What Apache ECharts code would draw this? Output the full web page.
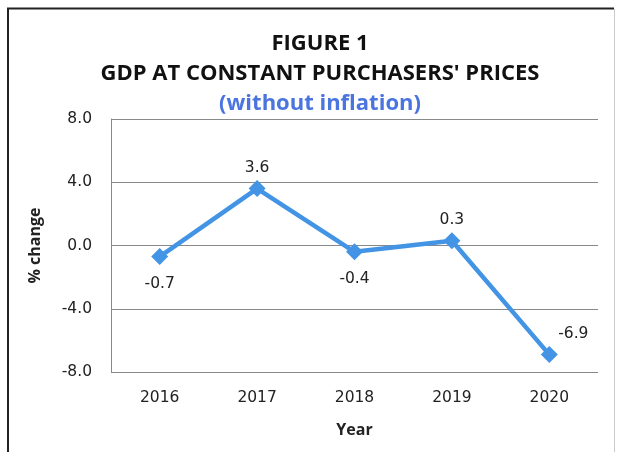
<!DOCTYPE html>
<html>
<head>
<meta charset="utf-8">
<script src="https://cdn.jsdelivr.net/npm/echarts@6/dist/echarts.min.js"></script>
<style>
  html, body { margin: 0; padding: 0; background: #fff; }
  #main { width: 618px; height: 452px; }
</style>
</head>
<body>
<div id="main"></div>
<script>
  // 数据
  const years = ['2016', '2017', '2018', '2019', '2020']
  const gdpChange = [-0.7, 3.6, -0.4, 0.3, -6.9]
  // 标签位置（上 / 下 / 右上）
  const labelPos = ['bottom', 'top', 'bottom', 'top', 'top']

  const chart = echarts.init(document.getElementById('main'))

  const font = '"Open Sans", "DejaVu Sans", sans-serif'
  const numFont = '"DejaVu Sans", sans-serif'

  // 标题：三行居中
  const titleRow = (text, top, color) => ({
    text: text,
    left: 315,
    textAlign: 'center',
    top: top,
    textStyle: { fontFamily: font, fontSize: 22, fontWeight: 'bold', color: color }
  })

  chart.setOption({
    animation: false,
    backgroundColor: '#fff',
    title: [
      titleRow('FIGURE 1', 28, '#111'),
      titleRow("GDP AT CONSTANT PURCHASERS' PRICES", 58, '#111'),
      titleRow('(without inflation)', 88, '#4a74e0')
    ],
    // 外框
    graphic: [
      {
        type: 'polyline',
        shape: { points: [[8, 460], [8, 8.5], [614, 8.5]] },
        style: { stroke: '#222', lineWidth: 2, fill: null }
      },
      {
        type: 'line',
        shape: { x1: 614.5, y1: 9, x2: 614.5, y2: 460 },
        style: { stroke: '#ccc', lineWidth: 1 }
      }
    ],
    grid: { left: 111, right: 20, top: 119, bottom: 80 },
    xAxis: {
      type: 'category',
      data: years,
      name: 'Year',
      nameLocation: 'middle',
      nameGap: 50,
      nameTextStyle: { fontFamily: font, fontSize: 16, fontWeight: 'bold', color: '#222' },
      axisLine: { show: false },
      axisTick: { show: false },
      axisLabel: { fontFamily: numFont, fontSize: 15.5, color: '#222', margin: 18 }
    },
    yAxis: {
      type: 'value',
      min: -8,
      max: 8,
      interval: 4,
      name: '% change',
      nameLocation: 'middle',
      nameGap: 68,
      nameTextStyle: { fontFamily: font, fontSize: 16, fontWeight: 'bold', color: '#222' },
      axisLine: { show: true, lineStyle: { color: '#888' } },
      axisTick: { show: false },
      axisLabel: {
        fontFamily: numFont,
        fontSize: 15.5,
        color: '#222',
        margin: 19,
        formatter: (v) => v.toFixed(1)
      },
      splitLine: { lineStyle: { color: '#888', width: 1 } }
    },
    series: [
      {
        type: 'line',
        data: gdpChange.map((v, i) => ({
          value: v,
          label: {
            position: labelPos[i],
            offset: i === 4 ? [24, 0] : [0, 0],
            distance: labelPos[i] === 'top' ? 4 : 11
          }
        })),
        symbol: 'diamond',
        symbolSize: 17,
        lineStyle: { color: '#4394e5', width: 4.5 },
        itemStyle: { color: '#4394e5' },
        label: {
          show: true,
          fontFamily: numFont,
          fontSize: 15.5,
          color: '#222',
          formatter: (p) => p.value.toFixed(1)
        }
      }
    ]
  })
</script>
</body>
</html>
